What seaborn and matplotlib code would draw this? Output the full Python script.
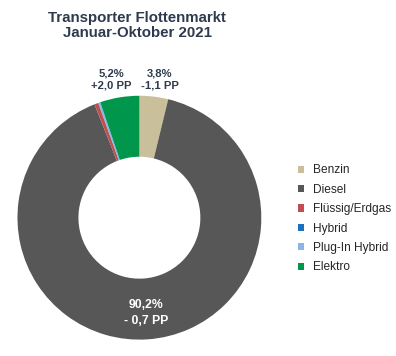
import numpy as np
import matplotlib
matplotlib.use("Agg")
import matplotlib.pyplot as plt
import seaborn as sns

# data
kategorien = ["Benzin", "Diesel", "Flüssig/Erdgas", "Hybrid", "Plug-In Hybrid", "Elektro"]
anteile = [3.8, 90.2, 0.5, 0.05, 0.25, 5.2]
labels = ["3,8%\n-1,1 PP", "90,2%\n- 0,7 PP", "", "", "", "5,2%\n+2,0 PP"]
farben = ["#C9BF9A", "#575757", "#C0504D", "#1F6FBF", "#8EB4E3", "#00964B"]

sns.set_theme(style="white")
plt.rcParams["font.family"] = ["Liberation Sans", "DejaVu Sans"]

fig = plt.figure(figsize=(3.96, 3.56), dpi=100)
ax = fig.add_axes([0.044, 0.046, 0.616, 0.685])

wedges, _ = ax.pie(anteile, colors=farben, startangle=90, counterclock=False,
                   radius=1, wedgeprops=dict(width=0.5, linewidth=0))
ax.set_xlim(-1, 1)
ax.set_ylim(-1, 1)
ax.set_aspect("equal")
ax.axis("off")

# labels from wedge angles
for w, lab in zip(wedges, labels):
    if not lab:
        continue
    mid = np.deg2rad((w.theta1 + w.theta2) / 2)
    if w.theta2 - w.theta1 > 180:
        x, y = 0.76 * np.cos(mid), 0.76 * np.sin(mid)
        ax.text(x, y - 0.02, lab, ha="center", va="center", color="white",
                fontsize=8.8, fontweight="bold", linespacing=1.45)
    else:
        x, y = 1.4 * np.cos(mid), 1.13
        ax.text(x, y, lab, ha="center", va="center", color="#2E3B4E",
                fontsize=8.1, fontweight="bold", linespacing=1.25, clip_on=False)

fig.text(0.347, 0.928, "Transporter Flottenmarkt\nJanuar-Oktober 2021",
         ha="center", va="center", fontsize=10.8, fontweight="bold",
         color="#2E3B4E", linespacing=1.15)

fig.legend(wedges, kategorien, loc="center left", bbox_to_anchor=(0.752, 0.385),
           frameon=False, fontsize=8.6, handlelength=0.55, handleheight=0.55,
           handletextpad=0.7, labelspacing=0.62, borderpad=0, borderaxespad=0)

fig.savefig("out.png", dpi=100)
